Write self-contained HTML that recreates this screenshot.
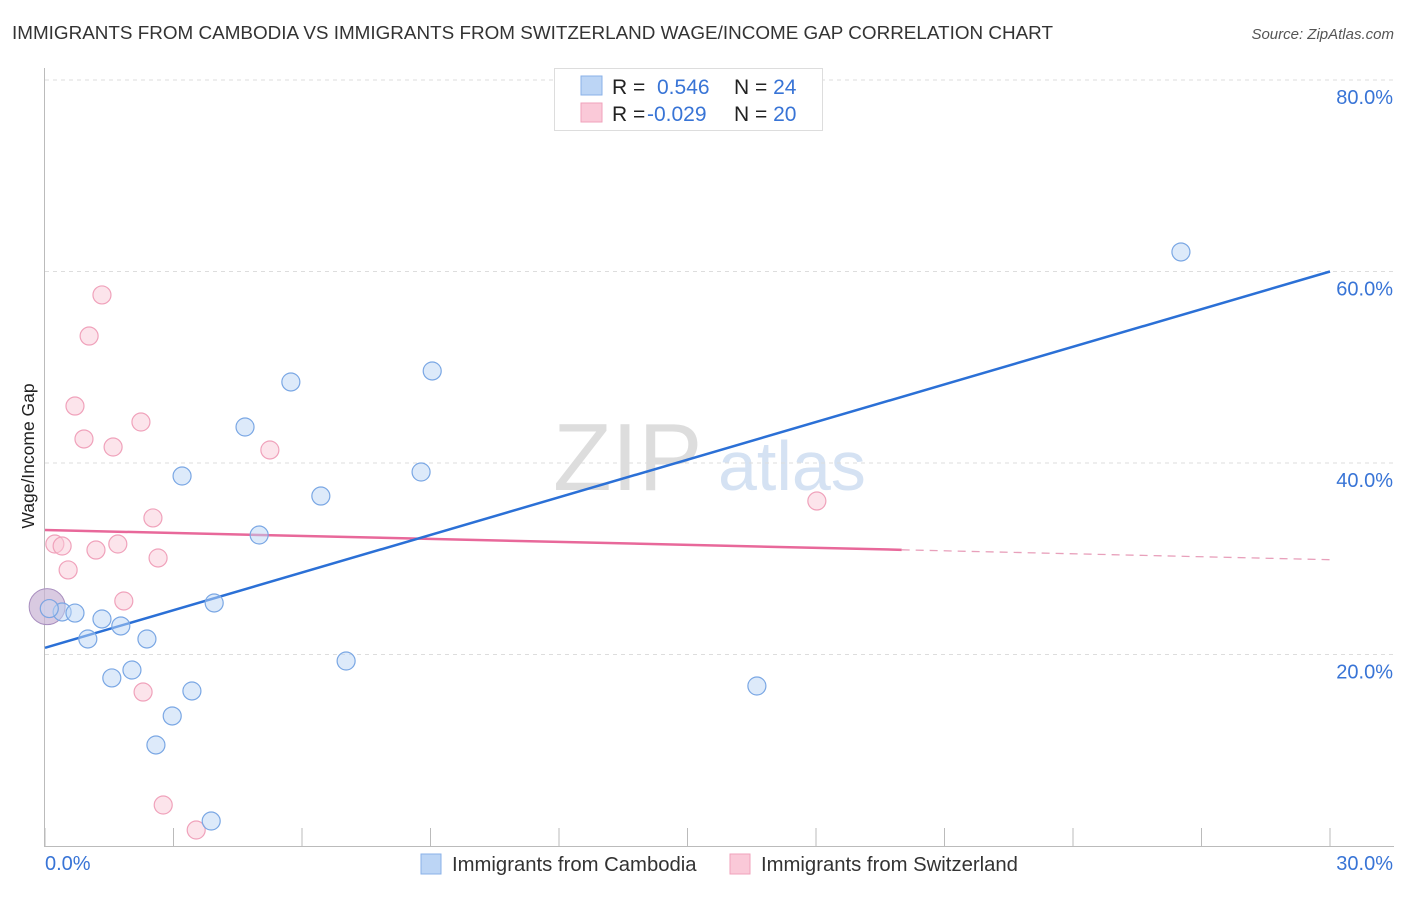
<!DOCTYPE html>
<html><head><meta charset="utf-8"><style>
body{margin:0;background:#fff;font-family:"Liberation Sans",sans-serif;}
svg text{font-family:"Liberation Sans",sans-serif;}
</style></head><body>
<svg id="chart" width="1406" height="892" viewBox="0 0 1406 892">
<text x="12" y="39" font-size="18.5" fill="#333" textLength="1041" lengthAdjust="spacingAndGlyphs">IMMIGRANTS FROM CAMBODIA VS IMMIGRANTS FROM SWITZERLAND WAGE/INCOME GAP CORRELATION CHART</text>
<text x="1394" y="39" font-size="15" fill="#555" font-style="italic" text-anchor="end">Source: ZipAtlas.com</text>
<text transform="translate(34,456) rotate(-90)" font-size="17.5" fill="#222" text-anchor="middle">Wage/Income Gap</text>
<g>
<text x="553" y="490" font-size="96" fill="#ddd" font-family="Liberation Serif">ZIP</text>
<text x="718" y="490" font-size="70" fill="#d5e2f3">atlas</text>
</g>
<g id="grid"></g><g id="axes"></g><g id="lines"></g><g id="marks"></g>
<g>
<rect x="554.5" y="68.5" width="268" height="62" fill="#fff" stroke="#ddd"/>
<rect x="581" y="76" width="21" height="19" fill="#bcd5f5" stroke="#8ab1e8"/>
<rect x="581" y="103" width="21" height="19" fill="#fac9d8" stroke="#f0a2bb"/>
<text x="612" y="94" font-size="21" fill="#222">R = <tspan x="657" fill="#3874d6">0.546</tspan><tspan x="734" fill="#222">N = </tspan><tspan fill="#3874d6">24</tspan></text>
<text x="612" y="121" font-size="21" fill="#222">R = <tspan x="647" fill="#3874d6">-0.029</tspan><tspan x="734" fill="#222">N = </tspan><tspan fill="#3874d6">20</tspan></text>
</g>
<g>
<rect x="421" y="854" width="20" height="20" fill="#bcd5f5" stroke="#8ab1e8"/>
<text x="452" y="871" font-size="20.3" fill="#333">Immigrants from Cambodia</text>
<rect x="730" y="854" width="20" height="20" fill="#fac9d8" stroke="#f0a2bb"/>
<text x="761" y="871" font-size="20.3" fill="#333">Immigrants from Switzerland</text>
</g>
</svg>
<script>
const xTicks=[0,3,6,9,12,15,18,21,24,27,30];
const yTicks=[20,40,60,80];
const yTickLabels=["20.0%","40.0%","60.0%","80.0%"];
const xEndLabels=["0.0%","30.0%"];
const cambodiaX=[26.52,9.04,5.74,4.67,3.20,8.78,6.44,5.00,3.95,0.40,0.70,1.33,1.77,1.00,2.38,2.03,1.56,7.03,3.43,2.97,2.59,3.88,16.62,0.10];
const cambodiaY=[62.04,49.61,48.46,43.76,38.64,39.06,36.55,32.48,25.38,24.44,24.33,23.71,22.98,21.62,21.62,18.38,17.55,19.32,16.19,13.58,10.55,2.61,16.71,24.8];
const swissX=[1.33,1.03,0.70,0.91,2.24,1.59,5.25,18.02,2.52,0.23,0.40,1.19,1.70,2.64,0.54,1.84,2.29,2.76,3.53,0.10];
const swissY=[57.55,53.26,45.95,42.51,44.28,41.67,41.36,36.03,34.26,31.54,31.33,30.91,31.54,30.08,28.83,25.59,16.08,4.28,1.67,24.8];
const bigX=[0.05];const bigY=[25.0];
const cambodiaTrend=[20.7,60.0];
const swissTrend=[33.0,29.9];
const swissSolidEnd=[20.0];
const X=v=>45+v*(1285/30), Y=v=>846-v*9.575;
const NS="http://www.w3.org/2000/svg";
function mk(p,t,a){const e=document.createElementNS(NS,t);for(const k in a)e.setAttribute(k,a[k]);document.getElementById(p).appendChild(e);return e;}
yTicks.forEach((t,i)=>{
 const l=mk('grid','line',{x1:45,x2:1394,y1:Y(t),y2:Y(t),stroke:'#ddd','stroke-dasharray':'4,4'});
 
 
 const tx=mk('grid','text',{x:1393,y:Y(t)+24,'font-size':20,fill:'#3874d6','text-anchor':'end'});
 tx.textContent=yTickLabels[i];
 
 
});
const ax=mk('axes','line',{x1:44.5,x2:44.5,y1:68,y2:846,stroke:'#bbb'});


const bx=mk('axes','line',{x1:44,x2:1394,y1:846.5,y2:846.5,stroke:'#bbb'});


xTicks.forEach(t=>{
 const l=mk('axes','line',{x1:X(t),x2:X(t),y1:828,y2:846,stroke:'#bbb'});
 
 
});
[[0,'start',45],[30,'end',1393]].forEach((d,i)=>{
 const tx=mk('axes','text',{x:d[2],y:870,'font-size':20,fill:'#3874d6','text-anchor':d[1]});
 tx.textContent=xEndLabels[i];
 
 
});
const bg=mk('marks','circle',{cx:X(bigX[0]),cy:Y(bigY[0]),r:18,fill:'#c9b3d4',stroke:'#a98fbf','fill-opacity':0.7});


swissX.forEach((v,i)=>{
 const c=mk('marks','circle',{cx:X(v),cy:Y(swissY[i]),r:9,fill:'#fac9d8','fill-opacity':0.5,stroke:'#f0a2bb','stroke-width':1.2});
 
 
});
cambodiaX.forEach((v,i)=>{
 const c=mk('marks','circle',{cx:X(v),cy:Y(cambodiaY[i]),r:9,fill:'#bcd5f5','fill-opacity':0.5,stroke:'#7aa7e4','stroke-width':1.2});
 
 
});
const sl=(t)=>swissTrend[0]+(swissTrend[1]-swissTrend[0])*t/30;
const p1=mk('lines','line',{x1:X(0),y1:Y(sl(0)),x2:X(swissSolidEnd[0]),y2:Y(sl(swissSolidEnd[0])),stroke:'#e8689a','stroke-width':2.5});


const p2=mk('lines','line',{x1:X(swissSolidEnd[0]),y1:Y(sl(swissSolidEnd[0])),x2:X(30),y2:Y(sl(30)),stroke:'#e8a0bb','stroke-width':1.3,'stroke-dasharray':'8,6'});


const b1=mk('lines','line',{x1:X(0),y1:Y(cambodiaTrend[0]),x2:X(30),y2:Y(cambodiaTrend[1]),stroke:'#2b70d6','stroke-width':2.5});


</script>
</body></html>
